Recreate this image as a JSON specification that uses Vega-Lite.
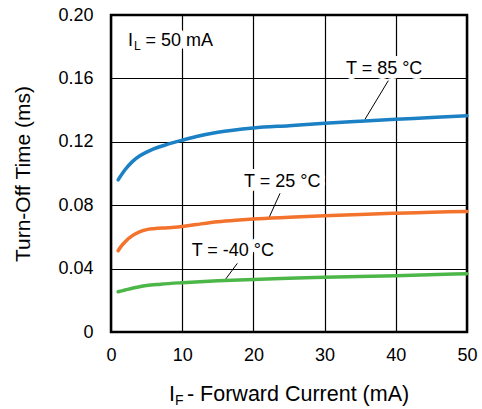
{
  "$schema": "https://vega.github.io/schema/vega-lite/v6.json",
  "width": 356,
  "height": 317,
  "autosize": "none",
  "padding": {"left": 111, "top": 15, "right": 15, "bottom": 77},
  "background": "white",
  "config": {
    "font": "Liberation Sans",
    "view": {"stroke": "black", "strokeWidth": 2.5},
    "axis": {
      "grid": true, "gridColor": "black", "gridOpacity": 1, "gridWidth": 1.2,
      "domain": false, "ticks": false, "tickSize": 0, "labelFlush": false,
      "labelFontSize": 18, "labelColor": "black", "labelFont": "Liberation Sans",
      "titleFont": "Liberation Sans", "titleFontWeight": "normal", "titleColor": "black"
    }
  },
  "datasets": {
    "curves": [
      {"series": "85", "x": 1, "y": 0.096},
      {"series": "85", "x": 2, "y": 0.1025},
      {"series": "85", "x": 3, "y": 0.1075},
      {"series": "85", "x": 4, "y": 0.111},
      {"series": "85", "x": 5, "y": 0.1135},
      {"series": "85", "x": 6, "y": 0.1155},
      {"series": "85", "x": 8, "y": 0.1185},
      {"series": "85", "x": 10, "y": 0.121},
      {"series": "85", "x": 12, "y": 0.1233},
      {"series": "85", "x": 15, "y": 0.126},
      {"series": "85", "x": 20, "y": 0.1287},
      {"series": "85", "x": 25, "y": 0.1302},
      {"series": "85", "x": 30, "y": 0.1317},
      {"series": "85", "x": 35, "y": 0.133},
      {"series": "85", "x": 40, "y": 0.1342},
      {"series": "85", "x": 45, "y": 0.1353},
      {"series": "85", "x": 50, "y": 0.1365},
      {"series": "25", "x": 1, "y": 0.0513},
      {"series": "25", "x": 1.5, "y": 0.0545},
      {"series": "25", "x": 2, "y": 0.057},
      {"series": "25", "x": 3, "y": 0.0608},
      {"series": "25", "x": 4, "y": 0.0632},
      {"series": "25", "x": 5, "y": 0.0646},
      {"series": "25", "x": 6, "y": 0.0652},
      {"series": "25", "x": 8, "y": 0.0658},
      {"series": "25", "x": 10, "y": 0.0665},
      {"series": "25", "x": 12, "y": 0.0678},
      {"series": "25", "x": 15, "y": 0.0696},
      {"series": "25", "x": 18, "y": 0.0707},
      {"series": "25", "x": 20, "y": 0.0713},
      {"series": "25", "x": 25, "y": 0.0724},
      {"series": "25", "x": 30, "y": 0.0734},
      {"series": "25", "x": 35, "y": 0.0742},
      {"series": "25", "x": 40, "y": 0.0749},
      {"series": "25", "x": 45, "y": 0.0755},
      {"series": "25", "x": 50, "y": 0.0761},
      {"series": "-40", "x": 1, "y": 0.0254},
      {"series": "-40", "x": 2, "y": 0.0265},
      {"series": "-40", "x": 3, "y": 0.0276},
      {"series": "-40", "x": 4, "y": 0.0285},
      {"series": "-40", "x": 5, "y": 0.0294},
      {"series": "-40", "x": 7, "y": 0.0302},
      {"series": "-40", "x": 10, "y": 0.0311},
      {"series": "-40", "x": 15, "y": 0.0323},
      {"series": "-40", "x": 20, "y": 0.0332},
      {"series": "-40", "x": 25, "y": 0.0339},
      {"series": "-40", "x": 30, "y": 0.0345},
      {"series": "-40", "x": 40, "y": 0.0355},
      {"series": "-40", "x": 50, "y": 0.0368}
    ],
    "labels": [
      {"text": "T = 85 °C", "x": 33.0, "y": 0.1628},
      {"text": "T = 25 °C", "x": 18.68, "y": 0.0915},
      {"text": "T = -40 °C", "x": 11.33, "y": 0.048},
      {"text": "I", "x": 2.39, "y": 0.1804},
      {"text": "= 50 mA", "x": 4.85, "y": 0.1804}
    ],
    "subs": [
      {"text": "L", "x": 3.23, "y": 0.1779}
    ],
    "xtitle": [
      {"text": "I", "x": 8.15, "y": -0.0435},
      {"text": "- Forward Current (mA)", "x": 10.67, "y": -0.0435}
    ],
    "xtitlesub": [
      {"text": "F", "x": 8.99, "y": -0.0461}
    ],
    "leaders": [
      {"x": 38.95, "y": 0.1586, "x2": 35.67, "y2": 0.1342},
      {"x": 23.74, "y": 0.0875, "x2": 22.09, "y2": 0.0711},
      {"x": 17.74, "y": 0.0433, "x2": 16.01, "y2": 0.0328}
    ]
  },
  "encoding": {
    "x": {
      "field": "x", "type": "quantitative",
      "scale": {"domain": [0, 50], "nice": false, "zero": false},
      "axis": {"values": [0, 10, 20, 30, 40, 50], "labelPadding": 14, "title": null}
    },
    "y": {
      "field": "y", "type": "quantitative",
      "scale": {"domain": [0, 0.2], "nice": false, "zero": false},
      "axis": {
        "values": [0, 0.04, 0.08, 0.12, 0.16, 0.2],
        "labelExpr": "datum.value == 0 ? '0' : format(datum.value, '.2f')",
        "labelPadding": 18,
        "title": "Turn-Off Time (ms)",
        "titleFontSize": 21,
        "titleX": -82,
        "titleBaseline": "alphabetic",
        "titleAngle": -90
      }
    }
  },
  "layer": [
    {
      "data": {"name": "labels"},
      "mark": {"type": "text", "align": "left", "baseline": "alphabetic", "fontSize": 18, "stroke": "white", "strokeWidth": 10, "strokeJoin": "round", "fill": "white"},
      "encoding": {"text": {"field": "text"}}
    },
    {
      "data": {"name": "subs"},
      "mark": {"type": "text", "align": "left", "baseline": "alphabetic", "fontSize": 12, "stroke": "white", "strokeWidth": 8, "strokeJoin": "round", "fill": "white"},
      "encoding": {"text": {"field": "text"}}
    },
    {
      "data": {"name": "labels"},
      "mark": {"type": "text", "align": "left", "baseline": "alphabetic", "fontSize": 18, "color": "black"},
      "encoding": {"text": {"field": "text"}}
    },
    {
      "data": {"name": "subs"},
      "mark": {"type": "text", "align": "left", "baseline": "alphabetic", "fontSize": 12, "color": "black"},
      "encoding": {"text": {"field": "text"}}
    },
    {
      "data": {"name": "xtitle"},
      "mark": {"type": "text", "align": "left", "baseline": "alphabetic", "fontSize": 21.5, "color": "black"},
      "encoding": {"text": {"field": "text"}}
    },
    {
      "data": {"name": "xtitlesub"},
      "mark": {"type": "text", "align": "left", "baseline": "alphabetic", "fontSize": 14, "color": "black"},
      "encoding": {"text": {"field": "text"}}
    },
    {
      "data": {"name": "leaders"},
      "mark": {"type": "rule", "color": "black", "strokeWidth": 1},
      "encoding": {
        "x2": {"field": "x2"},
        "y2": {"field": "y2"}
      }
    },
    {
      "data": {"name": "curves"},
      "mark": {"type": "line", "strokeWidth": 3.5, "strokeCap": "round", "interpolate": "monotone"},
      "encoding": {
        "color": {
          "field": "series", "type": "nominal",
          "scale": {"domain": ["85", "25", "-40"], "range": ["#1b80c4", "#f3722c", "#4cb748"]},
          "legend": null
        },
        "detail": {"field": "series"}
      }
    }
  ]
}
